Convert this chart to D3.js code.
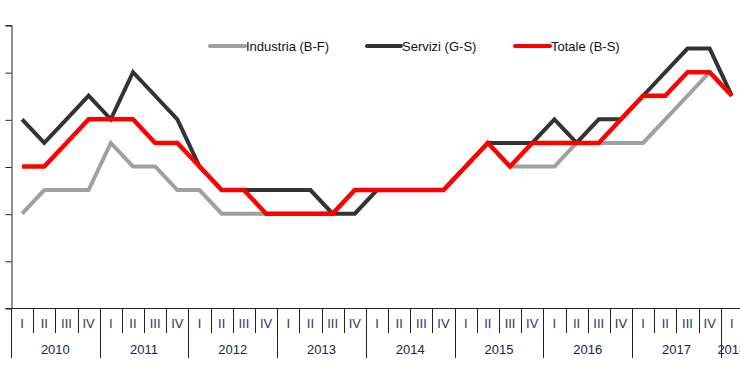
<!DOCTYPE html>
<html>
<head>
<meta charset="utf-8">
<script src="https://cdn.jsdelivr.net/npm/d3@7/dist/d3.min.js"></script>
<style>
  html, body { margin: 0; padding: 0; background: #fff; }
  svg { display: block; }
  text { font-family: "Liberation Sans Narrow", "Arial Narrow", "Liberation Sans", Arial, sans-serif; }
</style>
</head>
<body>
<svg id="chart" width="740" height="389"></svg>
<script>
// ---- data ----
const years = ["2010","2011","2012","2013","2014","2015","2016","2017","2018"];
const quarterLabels = ["I","II","III","IV"];
const quarters = [];
years.forEach(y => quarterLabels.forEach(q => { if (!(y === "2018" && q !== "I")) quarters.push(y + "-" + q); }));

const industria = [2, 2.5, 2.5, 2.5,  3.5, 3, 3, 2.5,  2.5, 2, 2, 2,  2, 2, 2, 2.5,
                   2.5, 2.5, 2.5, 2.5,  3, 3.5, 3, 3,  3, 3.5, 3.5, 3.5,  3.5, 4, 4.5, 5,  4.5];
const servizi   = [4, 3.5, 4, 4.5,  4, 5, 4.5, 4,  3, 2.5, 2.5, 2.5,  2.5, 2.5, 2, 2,
                   2.5, 2.5, 2.5, 2.5,  3, 3.5, 3.5, 3.5,  4, 3.5, 4, 4,  4.5, 5, 5.5, 5.5,  4.5];
const totale    = [3, 3, 3.5, 4,  4, 4, 3.5, 3.5,  3, 2.5, 2.5, 2,  2, 2, 2, 2.5,
                   2.5, 2.5, 2.5, 2.5,  3, 3.5, 3, 3.5,  3.5, 3.5, 3.5, 4,  4.5, 4.5, 5, 5,  4.5];
const yTicks = [0, 1, 2, 3, 4, 5, 6];
const seriesNames = ["Industria (B-F)", "Servizi (G-S)", "Totale (B-S)"];
const seriesColors = ["#a0a0a0", "#333333", "#ff0000"];

// ---- layout ----
const svg = d3.select("#chart");
const axisX0 = 11, axisY = 308, topY = 25;
const x = d3.scaleBand().domain(quarters).range([axisX0, axisX0 + 33 * 22.18]).padding(0);
const y = d3.scaleLinear().domain([0, 6]).range([axisY, topY]);
const cx = k => x(k) + x.bandwidth() / 2;

// y axis
const yAxis = d3.axisLeft(y).tickValues(yTicks).tickSize(6).tickFormat("");
const gy = svg.append("g").attr("transform", `translate(${axisX0 + 0.5},0)`).call(yAxis);
gy.select(".domain").attr("stroke", "#222");
gy.selectAll(".tick line").attr("stroke", "#222").attr("transform", "translate(0,0.5)");
svg.append("line").attr("x1", axisX0 + 0.5).attr("x2", axisX0 + 0.5)
  .attr("y1", axisY).attr("y2", 358).attr("stroke", "#222");

// x axis baseline
svg.append("line").attr("x1", axisX0).attr("x2", 740)
  .attr("y1", axisY + 0.5).attr("y2", axisY + 0.5).attr("stroke", "#222");

// separators
quarters.forEach((k, i) => {
  if (i === 0) return;
  const isYear = k.endsWith("-I");
  const xx = Math.round(x(k)) + 0.5;
  svg.append("line").attr("x1", xx).attr("x2", xx)
    .attr("y1", axisY).attr("y2", isYear ? 358 : 333).attr("stroke", "#222");
});

// quarter labels
svg.append("g").selectAll("text").data(quarters).join("text")
  .attr("x", d => cx(d)).attr("y", 328)
  .attr("text-anchor", "middle").attr("font-size", 13).attr("fill", "#33305e")
  .text(d => d.split("-")[1]);

// year labels
svg.append("g").selectAll("text").data(years).join("text")
  .attr("x", d => {
    const ks = quarters.filter(k => k.startsWith(d));
    return (x(ks[0]) + x(ks[ks.length - 1]) + x.bandwidth()) / 2;
  })
  .attr("y", 354)
  .attr("text-anchor", "middle").attr("font-size", 13).attr("fill", "#222244")
  .text(d => d);

// lines
const line = d3.line().x((d, i) => cx(quarters[i])).y(d => y(d));
[industria, servizi, totale].forEach((s, i) => {
  svg.append("path").datum(s).attr("d", line)
    .attr("fill", "none").attr("stroke", seriesColors[i])
    .attr("stroke-width", i === 2 ? 4.5 : 4).attr("stroke-linejoin", "miter");
});

// legend
const legendPos = [[210, 245], [367, 401], [515, 550]];
seriesNames.forEach((n, i) => {
  const [a, b] = legendPos[i];
  svg.append("line").attr("x1", a).attr("x2", b).attr("y1", 46).attr("y2", 46)
    .attr("stroke", seriesColors[i]).attr("stroke-width", 4).attr("stroke-linecap", "round");
  svg.append("text").attr("x", b + 1).attr("y", 51).attr("font-size", 13)
    .attr("fill", "#111").text(n);
});
</script>
</body>
</html>
